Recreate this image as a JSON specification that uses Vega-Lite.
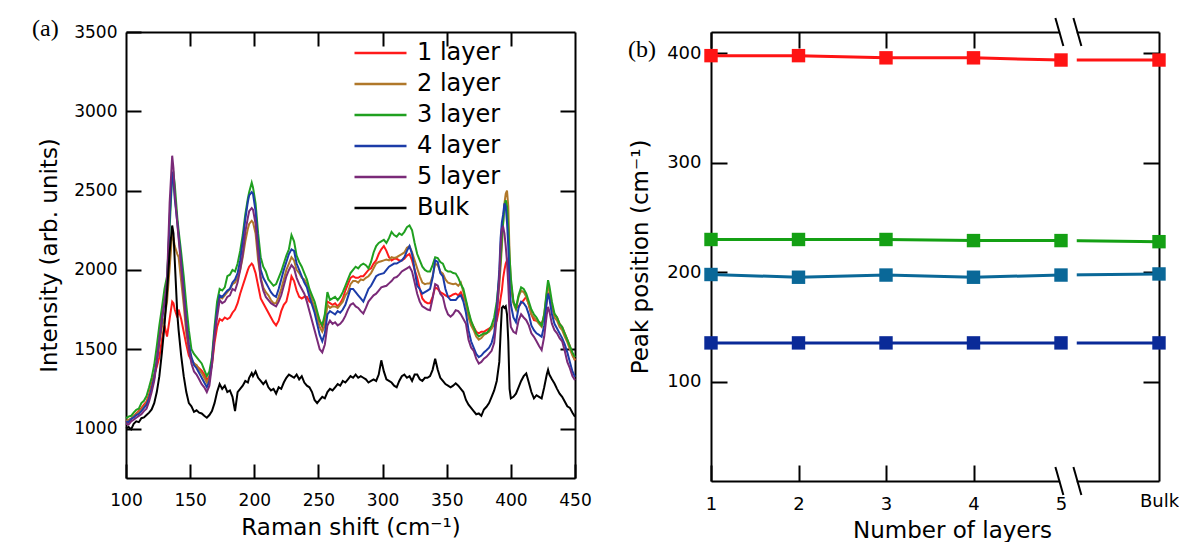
{
  "$schema": "https://vega.github.io/schema/vega-lite/v6.json",
  "background": "white",
  "padding": {"left": 32, "top": 16, "right": 0, "bottom": 0},
  "bounds": "flush",
  "spacing": 136,
  "resolve": {"scale": {"color": "independent"}, "legend": {"color": "independent"}},
  "config": {
    "view": {"stroke": null},
    "font": "DejaVu Sans",
    "axis": {
      "grid": false,
      "domainColor": "#000",
      "domainWidth": 2,
      "tickColor": "#000",
      "tickWidth": 2,
      "labelColor": "#000",
      "titleColor": "#000",
      "labelFont": "DejaVu Sans",
      "titleFont": "DejaVu Sans",
      "titleFontWeight": "normal",
      "labelFlush": false,
      "labelOverlap": false
    }
  },
  "hconcat": [
    {
      "width": 449,
      "height": 446,
      "title": {"text": "(a)", "anchor": "start", "frame": "group", "font": "Liberation Serif", "fontSize": 24, "fontWeight": "normal", "color": "#000", "dx": -94, "dy": 18, "offset": 0},
      "layer": [
        {
          "data": {
            "values": [
              {"x":100,"1 layer":1040,"2 layer":1050,"3 layer":1065,"4 layer":1045,"5 layer":1030,"Bulk":1000},
              {"x":102,"1 layer":1052,"2 layer":1055,"3 layer":1075,"4 layer":1040,"5 layer":1025,"Bulk":1010},
              {"x":104,"1 layer":1060,"2 layer":1062,"3 layer":1080,"4 layer":1060,"5 layer":1045,"Bulk":995},
              {"x":106,"1 layer":1078,"2 layer":1080,"3 layer":1100,"4 layer":1070,"5 layer":1055,"Bulk":1030},
              {"x":108,"1 layer":1095,"2 layer":1090,"3 layer":1118,"4 layer":1085,"5 layer":1068,"Bulk":1045},
              {"x":110,"1 layer":1110,"2 layer":1105,"3 layer":1125,"4 layer":1092,"5 layer":1080,"Bulk":1040},
              {"x":112,"1 layer":1128,"2 layer":1120,"3 layer":1160,"4 layer":1110,"5 layer":1090,"Bulk":1065},
              {"x":114,"1 layer":1150,"2 layer":1140,"3 layer":1175,"4 layer":1130,"5 layer":1110,"Bulk":1070},
              {"x":116,"1 layer":1170,"2 layer":1160,"3 layer":1205,"4 layer":1150,"5 layer":1125,"Bulk":1085},
              {"x":118,"1 layer":1215,"2 layer":1200,"3 layer":1260,"4 layer":1190,"5 layer":1170,"Bulk":1100},
              {"x":120,"1 layer":1280,"2 layer":1260,"3 layer":1320,"4 layer":1250,"5 layer":1230,"Bulk":1120},
              {"x":122,"1 layer":1340,"2 layer":1320,"3 layer":1400,"4 layer":1320,"5 layer":1300,"Bulk":1160},
              {"x":124,"1 layer":1390,"2 layer":1420,"3 layer":1520,"4 layer":1430,"5 layer":1420,"Bulk":1230},
              {"x":126,"1 layer":1450,"2 layer":1540,"3 layer":1650,"4 layer":1560,"5 layer":1560,"Bulk":1330},
              {"x":128,"1 layer":1560,"2 layer":1640,"3 layer":1760,"4 layer":1680,"5 layer":1700,"Bulk":1480},
              {"x":130,"1 layer":1650,"2 layer":1700,"3 layer":1880,"4 layer":1790,"5 layer":1800,"Bulk":1650},
              {"x":132,"1 layer":1580,"2 layer":1800,"3 layer":1960,"4 layer":1900,"5 layer":1930,"Bulk":1860},
              {"x":134,"1 layer":1690,"2 layer":2010,"3 layer":2260,"4 layer":2320,"5 layer":2420,"Bulk":2110},
              {"x":136,"1 layer":1800,"2 layer":2230,"3 layer":2600,"4 layer":2620,"5 layer":2720,"Bulk":2280},
              {"x":137,"1 layer":1790,"2 layer":2200,"3 layer":2610,"4 layer":2560,"5 layer":2640,"Bulk":2230},
              {"x":138,"1 layer":1750,"2 layer":2150,"3 layer":2540,"4 layer":2450,"5 layer":2480,"Bulk":2060},
              {"x":140,"1 layer":1700,"2 layer":2100,"3 layer":2330,"4 layer":2300,"5 layer":2290,"Bulk":1720},
              {"x":141,"1 layer":1750,"2 layer":2080,"3 layer":2250,"4 layer":2220,"5 layer":2200,"Bulk":1620},
              {"x":143,"1 layer":1690,"2 layer":1930,"3 layer":2110,"4 layer":2050,"5 layer":2020,"Bulk":1460},
              {"x":145,"1 layer":1610,"2 layer":1780,"3 layer":1960,"4 layer":1870,"5 layer":1830,"Bulk":1330},
              {"x":147,"1 layer":1530,"2 layer":1600,"3 layer":1780,"4 layer":1680,"5 layer":1650,"Bulk":1230},
              {"x":149,"1 layer":1460,"2 layer":1500,"3 layer":1620,"4 layer":1530,"5 layer":1500,"Bulk":1160},
              {"x":151,"1 layer":1430,"2 layer":1440,"3 layer":1500,"4 layer":1450,"5 layer":1410,"Bulk":1140},
              {"x":153,"1 layer":1410,"2 layer":1410,"3 layer":1470,"4 layer":1400,"5 layer":1360,"Bulk":1105},
              {"x":155,"1 layer":1395,"2 layer":1400,"3 layer":1450,"4 layer":1380,"5 layer":1340,"Bulk":1115},
              {"x":157,"1 layer":1380,"2 layer":1370,"3 layer":1430,"4 layer":1350,"5 layer":1310,"Bulk":1100},
              {"x":159,"1 layer":1365,"2 layer":1350,"3 layer":1410,"4 layer":1320,"5 layer":1280,"Bulk":1095},
              {"x":161,"1 layer":1340,"2 layer":1320,"3 layer":1370,"4 layer":1290,"5 layer":1260,"Bulk":1080},
              {"x":163,"1 layer":1305,"2 layer":1290,"3 layer":1330,"4 layer":1260,"5 layer":1230,"Bulk":1068},
              {"x":165,"1 layer":1330,"2 layer":1320,"3 layer":1360,"4 layer":1300,"5 layer":1270,"Bulk":1085},
              {"x":167,"1 layer":1400,"2 layer":1420,"3 layer":1450,"4 layer":1420,"5 layer":1400,"Bulk":1110},
              {"x":169,"1 layer":1540,"2 layer":1600,"3 layer":1640,"4 layer":1600,"5 layer":1580,"Bulk":1160},
              {"x":171,"1 layer":1640,"2 layer":1740,"3 layer":1800,"4 layer":1740,"5 layer":1700,"Bulk":1230},
              {"x":173,"1 layer":1690,"2 layer":1830,"3 layer":1880,"4 layer":1840,"5 layer":1810,"Bulk":1280},
              {"x":175,"1 layer":1680,"2 layer":1820,"3 layer":1870,"4 layer":1830,"5 layer":1790,"Bulk":1250},
              {"x":177,"1 layer":1700,"2 layer":1840,"3 layer":1890,"4 layer":1850,"5 layer":1800,"Bulk":1270},
              {"x":179,"1 layer":1690,"2 layer":1860,"3 layer":1960,"4 layer":1870,"5 layer":1830,"Bulk":1230},
              {"x":181,"1 layer":1700,"2 layer":1880,"3 layer":1970,"4 layer":1880,"5 layer":1840,"Bulk":1240},
              {"x":183,"1 layer":1730,"2 layer":1910,"3 layer":2000,"4 layer":1920,"5 layer":1880,"Bulk":1200},
              {"x":185,"1 layer":1750,"2 layer":1920,"3 layer":1990,"4 layer":1940,"5 layer":1870,"Bulk":1110},
              {"x":187,"1 layer":1790,"2 layer":1950,"3 layer":2040,"4 layer":1980,"5 layer":1920,"Bulk":1230},
              {"x":189,"1 layer":1850,"2 layer":2000,"3 layer":2120,"4 layer":2060,"5 layer":2000,"Bulk":1250},
              {"x":191,"1 layer":1900,"2 layer":2080,"3 layer":2220,"4 layer":2180,"5 layer":2100,"Bulk":1270},
              {"x":193,"1 layer":1950,"2 layer":2180,"3 layer":2350,"4 layer":2320,"5 layer":2240,"Bulk":1300},
              {"x":195,"1 layer":2000,"2 layer":2260,"3 layer":2450,"4 layer":2430,"5 layer":2330,"Bulk":1290},
              {"x":196,"1 layer":2020,"2 layer":2290,"3 layer":2490,"4 layer":2470,"5 layer":2370,"Bulk":1320},
              {"x":198,"1 layer":2040,"2 layer":2310,"3 layer":2550,"4 layer":2490,"5 layer":2390,"Bulk":1350},
              {"x":199,"1 layer":2030,"2 layer":2300,"3 layer":2520,"4 layer":2480,"5 layer":2380,"Bulk":1330},
              {"x":201,"1 layer":1980,"2 layer":2230,"3 layer":2420,"4 layer":2370,"5 layer":2290,"Bulk":1360},
              {"x":203,"1 layer":1900,"2 layer":2060,"3 layer":2230,"4 layer":2160,"5 layer":2110,"Bulk":1320},
              {"x":205,"1 layer":1820,"2 layer":1950,"3 layer":2080,"4 layer":2000,"5 layer":1940,"Bulk":1300},
              {"x":207,"1 layer":1790,"2 layer":1890,"3 layer":2020,"4 layer":1950,"5 layer":1870,"Bulk":1280},
              {"x":209,"1 layer":1760,"2 layer":1860,"3 layer":1990,"4 layer":1920,"5 layer":1830,"Bulk":1300},
              {"x":211,"1 layer":1730,"2 layer":1840,"3 layer":1940,"4 layer":1890,"5 layer":1810,"Bulk":1260},
              {"x":213,"1 layer":1700,"2 layer":1810,"3 layer":1920,"4 layer":1860,"5 layer":1790,"Bulk":1240},
              {"x":215,"1 layer":1670,"2 layer":1790,"3 layer":1900,"4 layer":1840,"5 layer":1780,"Bulk":1250},
              {"x":217,"1 layer":1650,"2 layer":1790,"3 layer":1910,"4 layer":1830,"5 layer":1770,"Bulk":1220},
              {"x":219,"1 layer":1680,"2 layer":1830,"3 layer":1950,"4 layer":1880,"5 layer":1800,"Bulk":1260},
              {"x":221,"1 layer":1740,"2 layer":1880,"3 layer":1990,"4 layer":1940,"5 layer":1840,"Bulk":1250},
              {"x":223,"1 layer":1780,"2 layer":1940,"3 layer":2040,"4 layer":2000,"5 layer":1900,"Bulk":1290},
              {"x":225,"1 layer":1800,"2 layer":2000,"3 layer":2090,"4 layer":2050,"5 layer":1960,"Bulk":1320},
              {"x":227,"1 layer":1870,"2 layer":2040,"3 layer":2130,"4 layer":2100,"5 layer":2000,"Bulk":1340},
              {"x":229,"1 layer":1960,"2 layer":2080,"3 layer":2220,"4 layer":2130,"5 layer":2030,"Bulk":1330},
              {"x":231,"1 layer":1930,"2 layer":2060,"3 layer":2180,"4 layer":2120,"5 layer":2010,"Bulk":1320},
              {"x":233,"1 layer":1870,"2 layer":2000,"3 layer":2090,"4 layer":2040,"5 layer":1950,"Bulk":1340},
              {"x":235,"1 layer":1830,"2 layer":1980,"3 layer":2050,"4 layer":2000,"5 layer":1910,"Bulk":1310},
              {"x":237,"1 layer":1820,"2 layer":1950,"3 layer":2020,"4 layer":1960,"5 layer":1880,"Bulk":1330},
              {"x":239,"1 layer":1830,"2 layer":1940,"3 layer":1980,"4 layer":1920,"5 layer":1850,"Bulk":1290},
              {"x":241,"1 layer":1830,"2 layer":1910,"3 layer":1940,"4 layer":1890,"5 layer":1800,"Bulk":1270},
              {"x":243,"1 layer":1800,"2 layer":1860,"3 layer":1880,"4 layer":1830,"5 layer":1740,"Bulk":1260},
              {"x":245,"1 layer":1790,"2 layer":1810,"3 layer":1840,"4 layer":1780,"5 layer":1680,"Bulk":1230},
              {"x":247,"1 layer":1760,"2 layer":1760,"3 layer":1800,"4 layer":1730,"5 layer":1620,"Bulk":1180},
              {"x":249,"1 layer":1720,"2 layer":1700,"3 layer":1740,"4 layer":1660,"5 layer":1560,"Bulk":1160},
              {"x":251,"1 layer":1680,"2 layer":1640,"3 layer":1680,"4 layer":1590,"5 layer":1500,"Bulk":1180},
              {"x":253,"1 layer":1640,"2 layer":1610,"3 layer":1650,"4 layer":1550,"5 layer":1480,"Bulk":1200},
              {"x":255,"1 layer":1700,"2 layer":1650,"3 layer":1720,"4 layer":1600,"5 layer":1530,"Bulk":1190},
              {"x":257,"1 layer":1800,"2 layer":1780,"3 layer":1860,"4 layer":1720,"5 layer":1650,"Bulk":1230},
              {"x":259,"1 layer":1790,"2 layer":1760,"3 layer":1810,"4 layer":1740,"5 layer":1680,"Bulk":1250},
              {"x":261,"1 layer":1780,"2 layer":1770,"3 layer":1820,"4 layer":1730,"5 layer":1660,"Bulk":1240},
              {"x":263,"1 layer":1790,"2 layer":1770,"3 layer":1830,"4 layer":1720,"5 layer":1670,"Bulk":1260},
              {"x":265,"1 layer":1770,"2 layer":1760,"3 layer":1810,"4 layer":1740,"5 layer":1650,"Bulk":1280},
              {"x":267,"1 layer":1790,"2 layer":1780,"3 layer":1830,"4 layer":1730,"5 layer":1660,"Bulk":1270},
              {"x":269,"1 layer":1820,"2 layer":1800,"3 layer":1860,"4 layer":1750,"5 layer":1680,"Bulk":1300},
              {"x":271,"1 layer":1870,"2 layer":1840,"3 layer":1900,"4 layer":1780,"5 layer":1710,"Bulk":1290},
              {"x":273,"1 layer":1910,"2 layer":1860,"3 layer":1940,"4 layer":1830,"5 layer":1750,"Bulk":1310},
              {"x":275,"1 layer":1950,"2 layer":1910,"3 layer":1980,"4 layer":1880,"5 layer":1780,"Bulk":1330},
              {"x":277,"1 layer":1960,"2 layer":1930,"3 layer":2000,"4 layer":1880,"5 layer":1790,"Bulk":1320},
              {"x":279,"1 layer":1950,"2 layer":1930,"3 layer":2020,"4 layer":1860,"5 layer":1770,"Bulk":1340},
              {"x":281,"1 layer":1950,"2 layer":1920,"3 layer":2010,"4 layer":1840,"5 layer":1760,"Bulk":1320},
              {"x":283,"1 layer":1960,"2 layer":1940,"3 layer":2030,"4 layer":1820,"5 layer":1740,"Bulk":1330},
              {"x":285,"1 layer":1960,"2 layer":1935,"3 layer":2040,"4 layer":1800,"5 layer":1725,"Bulk":1320},
              {"x":287,"1 layer":1980,"2 layer":1950,"3 layer":2030,"4 layer":1840,"5 layer":1760,"Bulk":1310},
              {"x":289,"1 layer":2000,"2 layer":1960,"3 layer":2010,"4 layer":1880,"5 layer":1800,"Bulk":1290},
              {"x":291,"1 layer":2010,"2 layer":1980,"3 layer":2050,"4 layer":1900,"5 layer":1820,"Bulk":1300},
              {"x":293,"1 layer":2040,"2 layer":2010,"3 layer":2110,"4 layer":1930,"5 layer":1840,"Bulk":1310},
              {"x":295,"1 layer":2060,"2 layer":2040,"3 layer":2150,"4 layer":1960,"5 layer":1850,"Bulk":1300},
              {"x":297,"1 layer":2100,"2 layer":2050,"3 layer":2170,"4 layer":1970,"5 layer":1870,"Bulk":1340},
              {"x":299,"1 layer":2130,"2 layer":2055,"3 layer":2180,"4 layer":1975,"5 layer":1890,"Bulk":1430},
              {"x":301,"1 layer":2150,"2 layer":2060,"3 layer":2190,"4 layer":1980,"5 layer":1895,"Bulk":1360},
              {"x":303,"1 layer":2120,"2 layer":2065,"3 layer":2170,"4 layer":2000,"5 layer":1900,"Bulk":1310},
              {"x":305,"1 layer":2080,"2 layer":2060,"3 layer":2200,"4 layer":2020,"5 layer":1915,"Bulk":1300},
              {"x":307,"1 layer":2060,"2 layer":2080,"3 layer":2240,"4 layer":2030,"5 layer":1930,"Bulk":1290},
              {"x":309,"1 layer":2070,"2 layer":2075,"3 layer":2220,"4 layer":2040,"5 layer":1950,"Bulk":1270},
              {"x":311,"1 layer":2070,"2 layer":2080,"3 layer":2210,"4 layer":2040,"5 layer":1955,"Bulk":1260},
              {"x":313,"1 layer":2060,"2 layer":2090,"3 layer":2230,"4 layer":2050,"5 layer":1970,"Bulk":1300},
              {"x":315,"1 layer":2060,"2 layer":2100,"3 layer":2220,"4 layer":2060,"5 layer":1990,"Bulk":1330},
              {"x":317,"1 layer":2070,"2 layer":2110,"3 layer":2240,"4 layer":2080,"5 layer":2000,"Bulk":1340},
              {"x":319,"1 layer":2090,"2 layer":2140,"3 layer":2270,"4 layer":2120,"5 layer":2010,"Bulk":1320},
              {"x":321,"1 layer":2100,"2 layer":2150,"3 layer":2280,"4 layer":2150,"5 layer":2020,"Bulk":1330},
              {"x":323,"1 layer":2060,"2 layer":2110,"3 layer":2250,"4 layer":2100,"5 layer":1990,"Bulk":1300},
              {"x":325,"1 layer":2000,"2 layer":2060,"3 layer":2170,"4 layer":2000,"5 layer":1920,"Bulk":1340},
              {"x":327,"1 layer":1950,"2 layer":2010,"3 layer":2100,"4 layer":1900,"5 layer":1850,"Bulk":1340},
              {"x":329,"1 layer":1880,"2 layer":1960,"3 layer":2060,"4 layer":1880,"5 layer":1800,"Bulk":1310},
              {"x":331,"1 layer":1820,"2 layer":1920,"3 layer":2020,"4 layer":1850,"5 layer":1770,"Bulk":1300},
              {"x":333,"1 layer":1800,"2 layer":1910,"3 layer":2000,"4 layer":1860,"5 layer":1760,"Bulk":1320},
              {"x":335,"1 layer":1790,"2 layer":1915,"3 layer":1990,"4 layer":1870,"5 layer":1750,"Bulk":1320},
              {"x":337,"1 layer":1790,"2 layer":1914,"3 layer":1990,"4 layer":1880,"5 layer":1746,"Bulk":1330},
              {"x":339,"1 layer":1830,"2 layer":1960,"3 layer":2030,"4 layer":1950,"5 layer":1820,"Bulk":1370},
              {"x":341,"1 layer":1890,"2 layer":2040,"3 layer":2080,"4 layer":2060,"5 layer":1910,"Bulk":1440},
              {"x":343,"1 layer":1880,"2 layer":2030,"3 layer":2075,"4 layer":2050,"5 layer":1900,"Bulk":1370},
              {"x":345,"1 layer":1860,"2 layer":1990,"3 layer":2050,"4 layer":1980,"5 layer":1850,"Bulk":1320},
              {"x":347,"1 layer":1850,"2 layer":1977,"3 layer":2040,"4 layer":1960,"5 layer":1830,"Bulk":1300},
              {"x":349,"1 layer":1840,"2 layer":1940,"3 layer":2000,"4 layer":1880,"5 layer":1760,"Bulk":1280},
              {"x":351,"1 layer":1830,"2 layer":1920,"3 layer":1990,"4 layer":1830,"5 layer":1720,"Bulk":1270},
              {"x":353,"1 layer":1835,"2 layer":1914,"3 layer":1990,"4 layer":1810,"5 layer":1705,"Bulk":1260},
              {"x":355,"1 layer":1845,"2 layer":1910,"3 layer":1980,"4 layer":1810,"5 layer":1720,"Bulk":1270},
              {"x":357,"1 layer":1851,"2 layer":1914,"3 layer":1977,"4 layer":1810,"5 layer":1746,"Bulk":1285},
              {"x":359,"1 layer":1840,"2 layer":1900,"3 layer":1950,"4 layer":1830,"5 layer":1740,"Bulk":1270},
              {"x":361,"1 layer":1860,"2 layer":1920,"3 layer":1910,"4 layer":1840,"5 layer":1720,"Bulk":1250},
              {"x":363,"1 layer":1820,"2 layer":1860,"3 layer":1880,"4 layer":1800,"5 layer":1690,"Bulk":1230},
              {"x":365,"1 layer":1800,"2 layer":1780,"3 layer":1810,"4 layer":1730,"5 layer":1660,"Bulk":1180},
              {"x":367,"1 layer":1730,"2 layer":1700,"3 layer":1740,"4 layer":1620,"5 layer":1560,"Bulk":1150},
              {"x":369,"1 layer":1670,"2 layer":1650,"3 layer":1680,"4 layer":1550,"5 layer":1510,"Bulk":1130},
              {"x":371,"1 layer":1640,"2 layer":1620,"3 layer":1640,"4 layer":1510,"5 layer":1490,"Bulk":1110},
              {"x":373,"1 layer":1610,"2 layer":1580,"3 layer":1600,"4 layer":1470,"5 layer":1440,"Bulk":1090},
              {"x":375,"1 layer":1600,"2 layer":1560,"3 layer":1580,"4 layer":1450,"5 layer":1410,"Bulk":1095},
              {"x":377,"1 layer":1610,"2 layer":1570,"3 layer":1590,"4 layer":1460,"5 layer":1420,"Bulk":1080},
              {"x":379,"1 layer":1610,"2 layer":1590,"3 layer":1600,"4 layer":1480,"5 layer":1440,"Bulk":1120},
              {"x":381,"1 layer":1620,"2 layer":1600,"3 layer":1600,"4 layer":1494,"5 layer":1452,"Bulk":1137},
              {"x":383,"1 layer":1630,"2 layer":1610,"3 layer":1620,"4 layer":1510,"5 layer":1470,"Bulk":1160},
              {"x":385,"1 layer":1640,"2 layer":1630,"3 layer":1650,"4 layer":1540,"5 layer":1490,"Bulk":1200},
              {"x":387,"1 layer":1650,"2 layer":1660,"3 layer":1700,"4 layer":1600,"5 layer":1540,"Bulk":1240},
              {"x":389,"1 layer":1680,"2 layer":1750,"3 layer":1800,"4 layer":1750,"5 layer":1700,"Bulk":1300},
              {"x":391,"1 layer":1760,"2 layer":1900,"3 layer":1960,"4 layer":2000,"5 layer":1950,"Bulk":1420},
              {"x":392,"1 layer":1820,"2 layer":2020,"3 layer":2060,"4 layer":2200,"5 layer":2150,"Bulk":1600},
              {"x":393,"1 layer":1870,"2 layer":2150,"3 layer":2200,"4 layer":2300,"5 layer":2260,"Bulk":1760},
              {"x":394,"1 layer":1950,"2 layer":2300,"3 layer":2300,"4 layer":2350,"5 layer":2270,"Bulk":1770},
              {"x":395,"1 layer":2000,"2 layer":2420,"3 layer":2400,"4 layer":2420,"5 layer":2230,"Bulk":1760},
              {"x":396,"1 layer":2040,"2 layer":2480,"3 layer":2440,"4 layer":2400,"5 layer":2150,"Bulk":1770},
              {"x":397,"1 layer":2060,"2 layer":2500,"3 layer":2400,"4 layer":2300,"5 layer":2050,"Bulk":1720},
              {"x":398,"1 layer":2020,"2 layer":2400,"3 layer":2250,"4 layer":2150,"5 layer":1900,"Bulk":1550},
              {"x":399,"1 layer":1990,"2 layer":2100,"3 layer":2080,"4 layer":1900,"5 layer":1720,"Bulk":1250},
              {"x":400,"1 layer":1900,"2 layer":1920,"3 layer":1950,"4 layer":1780,"5 layer":1640,"Bulk":1190},
              {"x":402,"1 layer":1800,"2 layer":1790,"3 layer":1800,"4 layer":1700,"5 layer":1610,"Bulk":1200},
              {"x":404,"1 layer":1760,"2 layer":1750,"3 layer":1760,"4 layer":1670,"5 layer":1600,"Bulk":1220},
              {"x":406,"1 layer":1770,"2 layer":1830,"3 layer":1840,"4 layer":1760,"5 layer":1680,"Bulk":1260},
              {"x":408,"1 layer":1790,"2 layer":1870,"3 layer":1890,"4 layer":1800,"5 layer":1720,"Bulk":1300},
              {"x":410,"1 layer":1810,"2 layer":1860,"3 layer":1880,"4 layer":1790,"5 layer":1700,"Bulk":1330},
              {"x":412,"1 layer":1830,"2 layer":1830,"3 layer":1850,"4 layer":1767,"5 layer":1683,"Bulk":1347},
              {"x":414,"1 layer":1780,"2 layer":1780,"3 layer":1800,"4 layer":1720,"5 layer":1650,"Bulk":1290},
              {"x":416,"1 layer":1720,"2 layer":1720,"3 layer":1750,"4 layer":1650,"5 layer":1600,"Bulk":1230},
              {"x":418,"1 layer":1683,"2 layer":1700,"3 layer":1720,"4 layer":1620,"5 layer":1578,"Bulk":1190},
              {"x":420,"1 layer":1680,"2 layer":1680,"3 layer":1700,"4 layer":1600,"5 layer":1550,"Bulk":1210},
              {"x":422,"1 layer":1670,"2 layer":1660,"3 layer":1670,"4 layer":1590,"5 layer":1520,"Bulk":1200},
              {"x":424,"1 layer":1662,"2 layer":1641,"3 layer":1650,"4 layer":1578,"5 layer":1494,"Bulk":1190},
              {"x":426,"1 layer":1700,"2 layer":1720,"3 layer":1720,"4 layer":1650,"5 layer":1580,"Bulk":1260},
              {"x":428,"1 layer":1800,"2 layer":1850,"3 layer":1870,"4 layer":1800,"5 layer":1720,"Bulk":1340},
              {"x":429,"1 layer":1851,"2 layer":1900,"3 layer":1935,"4 layer":1851,"5 layer":1767,"Bulk":1370},
              {"x":430,"1 layer":1830,"2 layer":1870,"3 layer":1900,"4 layer":1820,"5 layer":1740,"Bulk":1340},
              {"x":432,"1 layer":1760,"2 layer":1780,"3 layer":1800,"4 layer":1720,"5 layer":1660,"Bulk":1310},
              {"x":434,"1 layer":1720,"2 layer":1700,"3 layer":1725,"4 layer":1660,"5 layer":1620,"Bulk":1284},
              {"x":436,"1 layer":1700,"2 layer":1680,"3 layer":1700,"4 layer":1630,"5 layer":1600,"Bulk":1250},
              {"x":438,"1 layer":1660,"2 layer":1640,"3 layer":1660,"4 layer":1600,"5 layer":1570,"Bulk":1220},
              {"x":440,"1 layer":1640,"2 layer":1620,"3 layer":1640,"4 layer":1570,"5 layer":1550,"Bulk":1200},
              {"x":442,"1 layer":1600,"2 layer":1580,"3 layer":1600,"4 layer":1530,"5 layer":1490,"Bulk":1170},
              {"x":444,"1 layer":1560,"2 layer":1545,"3 layer":1560,"4 layer":1480,"5 layer":1420,"Bulk":1140},
              {"x":446,"1 layer":1520,"2 layer":1500,"3 layer":1520,"4 layer":1420,"5 layer":1380,"Bulk":1130},
              {"x":448,"1 layer":1470,"2 layer":1460,"3 layer":1480,"4 layer":1360,"5 layer":1330,"Bulk":1100},
              {"x":450,"1 layer":1430,"2 layer":1430,"3 layer":1450,"4 layer":1326,"5 layer":1305,"Bulk":1074}
            ]
          },
          "transform": [{"fold": ["1 layer", "2 layer", "3 layer", "4 layer", "5 layer", "Bulk"], "as": ["sample", "intensity"]}],
          "mark": {"type": "line", "strokeWidth": 2},
          "encoding": {
            "x": {
              "field": "x", "type": "quantitative",
              "scale": {"domain": [100, 450], "nice": false, "zero": false},
              "axis": {"orient": "bottom", "values": [100, 150, 200, 250, 300, 350, 400, 450], "tickSize": -14, "labelPadding": 28, "labelFontSize": 17, "title": "Raman shift (cm⁻¹)", "titleFontSize": 23, "titlePadding": 8}
            },
            "y": {
              "field": "intensity", "type": "quantitative",
              "scale": {"domain": [688, 3500], "nice": false, "zero": false},
              "axis": {"orient": "left", "values": [1000, 1500, 2000, 2500, 3000, 3500], "format": "d", "tickSize": -15, "labelPadding": 24, "labelFontSize": 17, "title": "Intensity (arb. units)", "titleFontSize": 23, "titlePadding": 12}
            },
            "color": {
              "field": "sample", "type": "nominal",
              "scale": {"domain": ["1 layer", "2 layer", "3 layer", "4 layer", "5 layer", "Bulk"], "range": ["#ff1a1a", "#b0782a", "#20a020", "#1c3ca8", "#7a2a78", "#000000"]},
              "legend": {"orient": "none", "legendX": 242.5, "legendY": 9, "title": null, "symbolType": "M-4,0H4", "symbolSize": 169, "symbolStrokeWidth": 2.5, "labelFontSize": 24, "labelFont": "DejaVu Sans", "labelColor": "#000", "labelOffset": 24.5, "rowPadding": 7, "padding": 0}
            }
          }
        },
        {
          "data": {"values": [{}]},
          "mark": {"type": "point", "opacity": 0},
          "encoding": {
            "x": {"datum": 100, "type": "quantitative", "axis": {"orient": "top", "values": [150, 200, 250, 300, 350, 400], "tickSize": -14, "labels": false, "title": null}},
            "y": {"datum": 1000, "type": "quantitative", "axis": {"orient": "right", "values": [1000, 1500, 2000, 2500, 3000], "tickSize": -15, "labels": false, "title": null}}
          }
        }
      ],
      "resolve": {"axis": {"x": "independent", "y": "independent"}}
    },
    {
      "width": 448,
      "height": 449,
      "title": {"text": "(b)", "anchor": "start", "frame": "group", "font": "Liberation Serif", "fontSize": 24, "fontWeight": "normal", "color": "#000", "dx": -83, "dy": 45, "offset": 0},
      "layer": [
        {
          "data": {"name": "peaks", "values": [
            {"n": 1, "peak": "A4", "shift": 398}, {"n": 2, "peak": "A4", "shift": 398}, {"n": 3, "peak": "A4", "shift": 396}, {"n": 4, "peak": "A4", "shift": 396}, {"n": 5, "peak": "A4", "shift": 394}, {"n": 6.12, "peak": "A4", "shift": 394},
            {"n": 1, "peak": "A3", "shift": 230}, {"n": 2, "peak": "A3", "shift": 230}, {"n": 3, "peak": "A3", "shift": 230}, {"n": 4, "peak": "A3", "shift": 229}, {"n": 5, "peak": "A3", "shift": 229}, {"n": 6.12, "peak": "A3", "shift": 228},
            {"n": 1, "peak": "A2", "shift": 198}, {"n": 2, "peak": "A2", "shift": 195.5}, {"n": 3, "peak": "A2", "shift": 197.5}, {"n": 4, "peak": "A2", "shift": 195.5}, {"n": 5, "peak": "A2", "shift": 197.5}, {"n": 6.12, "peak": "A2", "shift": 198.5},
            {"n": 1, "peak": "A1", "shift": 135.5}, {"n": 2, "peak": "A1", "shift": 135.5}, {"n": 3, "peak": "A1", "shift": 135.5}, {"n": 4, "peak": "A1", "shift": 135.5}, {"n": 5, "peak": "A1", "shift": 135.5}, {"n": 6.12, "peak": "A1", "shift": 135.5}
          ]},
          "mark": {"type": "line", "strokeWidth": 3},
          "encoding": {
            "x": {
              "field": "n", "type": "quantitative",
              "scale": {"domain": [1, 6.12], "nice": false, "zero": false},
              "axis": {"orient": "bottom", "values": [1, 2, 3, 4, 5, 6.12], "labelExpr": "datum.value > 5.5 ? 'Bulk' : datum.label", "tickSize": -16, "tickOpacity": {"condition": {"test": "datum.value > 4.5", "value": 0}, "value": 1}, "labelPadding": {"condition": {"test": "datum.value > 5.5", "value": 27}, "value": 30}, "labelFontSize": 18, "title": "Number of layers", "titleFontSize": 23, "titlePadding": 6, "titleX": 241}
            },
            "y": {
              "field": "shift", "type": "quantitative",
              "scale": {"domain": [9.3, 419.6], "nice": false, "zero": false},
              "axis": {"orient": "left", "values": [100, 200, 300, 400], "tickSize": -16, "labelPadding": 26, "labelFontSize": 18, "title": "Peak position  (cm⁻¹)", "titleFontSize": 23, "titlePadding": 14}
            },
            "color": {"field": "peak", "type": "nominal", "scale": {"domain": ["A4", "A3", "A2", "A1"], "range": ["#ff1414", "#14a014", "#0a6898", "#0a2a98"]}, "legend": null}
          }
        },
        {
          "data": {"values": [{}]},
          "mark": {"type": "rect", "color": "white"},
          "encoding": {"x": {"datum": 4.99, "axis": null}, "x2": {"datum": 5.18}, "y": {"datum": 423, "axis": null}, "y2": {"datum": 5}}
        },
        {
          "data": {"name": "peaks"},
          "mark": {"type": "point", "shape": "square", "filled": true, "size": 180, "opacity": 1},
          "encoding": {
            "x": {"field": "n", "type": "quantitative", "axis": {"orient": "top", "values": [1, 2, 3, 4], "tickSize": -16, "labels": false, "title": null}},
            "y": {"field": "shift", "type": "quantitative", "axis": {"orient": "right", "values": [100, 200, 300, 400], "tickSize": -16, "labels": false, "title": null}},
            "color": {"field": "peak", "type": "nominal", "legend": null}
          }
        },
        {"data": {"values": [{}]}, "mark": {"type": "rule", "color": "#000", "strokeWidth": 2}, "encoding": {"x": {"datum": 4.936, "axis": null}, "x2": {"datum": 5.027}, "y": {"datum": 432.4, "axis": null}, "y2": {"datum": 406.8}}},
        {"data": {"values": [{}]}, "mark": {"type": "rule", "color": "#000", "strokeWidth": 2}, "encoding": {"x": {"datum": 5.142, "axis": null}, "x2": {"datum": 5.233}, "y": {"datum": 432.4, "axis": null}, "y2": {"datum": 406.8}}},
        {"data": {"values": [{}]}, "mark": {"type": "rule", "color": "#000", "strokeWidth": 2}, "encoding": {"x": {"datum": 4.936, "axis": null}, "x2": {"datum": 5.027}, "y": {"datum": 22.1, "axis": null}, "y2": {"datum": -3.5}}},
        {"data": {"values": [{}]}, "mark": {"type": "rule", "color": "#000", "strokeWidth": 2}, "encoding": {"x": {"datum": 5.142, "axis": null}, "x2": {"datum": 5.233}, "y": {"datum": 22.1, "axis": null}, "y2": {"datum": -3.5}}}
      ],
      "resolve": {"axis": {"x": "independent", "y": "independent"}}
    }
  ]
}
